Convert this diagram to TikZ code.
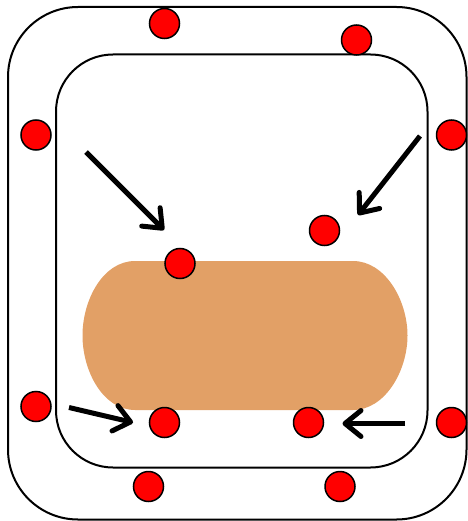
\documentclass[tikz,border=0pt]{standalone}
\usetikzlibrary{arrows.meta}
\definecolor{capsule}{RGB}{226,160,102}
\tikzset{
  membrane/.style={draw=black, line width=2pt},
  particle/.style={circle, draw=black, line width=1.5pt, fill=red, minimum size=30pt, inner sep=0pt},
  flow/.style={line width=5pt, -{Straight Barb[length=16pt,width=26pt,round]}}
}
\begin{document}
\begin{tikzpicture}[x=1pt,y=-1pt]
\useasboundingbox (0,0) rectangle (467,521);
% outer and inner compartments
\draw[membrane, rounded corners=70pt] (8,7) rectangle (466.5,519.5);
\draw[membrane, rounded corners=57pt] (56,54.5) rectangle (427.5,467.5);
% central body with elliptical ends
\fill[capsule] (135,261) -- (353,261)
  .. controls (385,261) and (407.5,300) .. (407.5,335.5)
  .. controls (407.5,371) and (385,410) .. (353,410)
  -- (135,410)
  .. controls (103,410) and (82.5,371) .. (82.5,335.5)
  .. controls (82.5,300) and (103,261) .. (135,261) -- cycle;
% particles
\node[particle] (p1) at (164.5,23.5) {};
\node[particle] (p2) at (356.5,40) {};
\node[particle] (p3) at (36,135) {};
\node[particle] (p4) at (451.5,135) {};
\node[particle] (p5) at (180,263.5) {};
\node[particle] (p6) at (324.5,230.5) {};
\node[particle] (p7) at (36,406.5) {};
\node[particle] (p8) at (164.5,422.5) {};
\node[particle] (p9) at (308.5,422.5) {};
\node[particle] (p10) at (451.5,422.5) {};
\node[particle] (p11) at (148.5,486.5) {};
\node[particle] (p12) at (340,486.5) {};
% arrow end points
\coordinate (a1s) at (86,152);
\coordinate (a1e) at (164,230);
\coordinate (a2s) at (420,136);
\coordinate (a2e) at (358,215);
\coordinate (a3s) at (69,407.5);
\coordinate (a3e) at (133,422.5);
\coordinate (a4s) at (405,423.5);
\coordinate (a4e) at (342.5,423.5);
\draw[flow] (a1s) -- (a1e);
\draw[flow] (a2s) -- (a2e);
\draw[flow] (a3s) -- (a3e);
\draw[flow] (a4s) -- (a4e);
\end{tikzpicture}
\end{document}
